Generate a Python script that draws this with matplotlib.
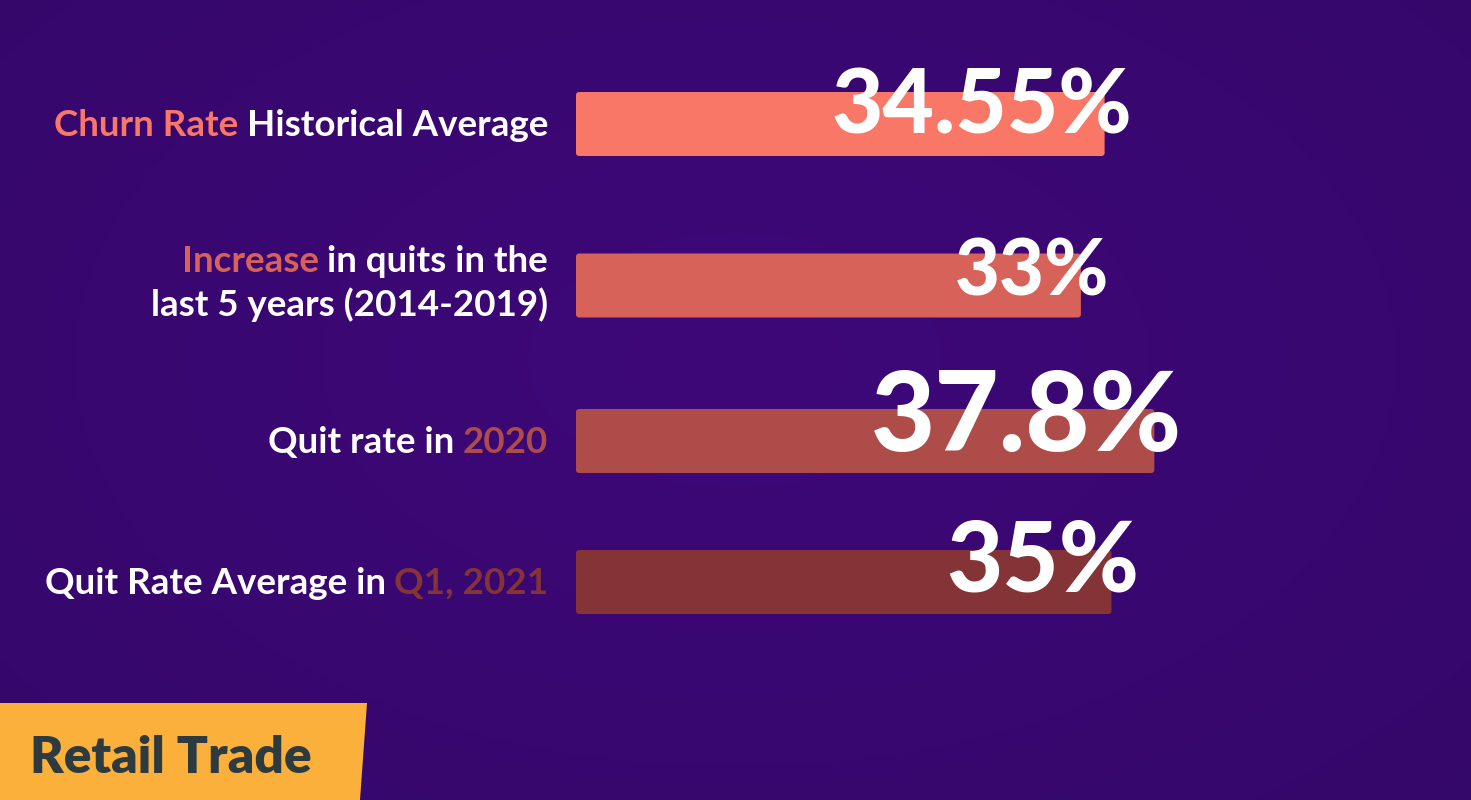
import matplotlib
matplotlib.use("Agg")
import matplotlib.pyplot as plt
import matplotlib.transforms as mtransforms
from matplotlib.patches import Polygon, FancyBboxPatch
import numpy as np

# ---- data ----
values = [34.55, 33, 37.8, 35]
value_labels = ["34.55%", "33%", "37.8%", "35%"]
label_accent = ["Churn Rate", "Increase", "2020", "Q1, 2021"]
label_plain = ["Historical Average", "in quits in the", "Quit rate in", "Quit Rate Average in"]
label_second_line = [None, "last 5 years (2014-2019)", None, None]
accent_first = [True, True, False, False]
title = "Retail Trade"

# ---- layout / style ----
W, H = 1471, 800
bar_pos = [124, 285.5, 441, 582]          # vertical centers (px from top)
bar_h = 64
bar_colors = ["#F87766", "#D6625A", "#AE4C4A", "#843436"]
value_sizes = [64, 56, 80, 70]
bar_x0 = 576
px_per_unit = 15.3
FONT = "Lato"

plt.rcParams['font.family'] = [FONT, 'DejaVu Sans']
fig = plt.figure(figsize=(W / 100, H / 100), dpi=100)

# background gradient
bg = fig.add_axes([0, 0, 1, 1])
yy, xx = np.mgrid[0:1:200j, 0:1:368j]
r = np.sqrt(((xx - 0.5) / 0.75) ** 2 + ((yy - 0.45) / 0.85) ** 2)
r = np.clip(r, 0, 1)
c_in = np.array([0x3E, 0x07, 0x79]) / 255
c_out = np.array([0x34, 0x08, 0x69]) / 255
img = c_in[None, None, :] * (1 - r[..., None]) + c_out[None, None, :] * r[..., None]
bg.imshow(img, extent=[0, W, H, 0], aspect='auto', interpolation='bicubic')
bg.set_xlim(0, W)
bg.set_ylim(H, 0)
bg.axis('off')

# bars axes
ax = fig.add_axes([bar_x0 / W, 0, (W - bar_x0) / W, 1])
ax.set_xlim(0, (W - bar_x0) / px_per_unit)
ax.set_ylim(H, 0)
ax.axis('off')
ax.patch.set_alpha(0)

bars = ax.barh(bar_pos, values, height=bar_h, color=bar_colors, left=0)
# replace with slightly rounded rectangles
for rect, col in zip(bars.patches, bar_colors):
    x, y = rect.get_x(), rect.get_y()
    w, h = rect.get_width(), rect.get_height()
    rect.set_visible(False)
    ax.add_patch(FancyBboxPatch((x, y), w, h,
                                boxstyle="round,pad=0,rounding_size=0.2",
                                mutation_aspect=px_per_unit,
                                facecolor=col, edgecolor='none'))

# value labels
val_tr = mtransforms.offset_copy(ax.transData, fig=fig, x=28, y=0, units='dots')
for v, lab, y, s in zip(values, value_labels, bar_pos, value_sizes):
    ax.text(v, y + 10, lab, transform=val_tr, ha='right', va='baseline',
            color='white', fontsize=s, fontweight='black', zorder=5)

# left labels
lab_tr = mtransforms.offset_copy(ax.transData, fig=fig, x=-28, y=0, units='dots')
fig.canvas.draw()
renderer = fig.canvas.get_renderer()
LS = 26.5
gap = 8
for i, y in enumerate(bar_pos):
    second = label_second_line[i]
    if second is not None:
        base1 = y - 13
        base2 = y + 30
        ax.text(0, base2, second, transform=lab_tr, ha='right', va='baseline',
                color='white', fontsize=LS, fontweight='bold')
    else:
        base1 = y + 12
    if accent_first[i]:
        t = ax.text(0, base1, label_plain[i], transform=lab_tr, ha='right', va='baseline',
                    color='white', fontsize=LS, fontweight='bold')
        bb = t.get_window_extent(renderer)
        _, ydisp = lab_tr.transform((0, base1))
        fig.text(bb.x0 - gap, ydisp, label_accent[i], transform=None, ha='right',
                 va='baseline', color=bar_colors[i], fontsize=LS, fontweight='bold')
    else:
        t = ax.text(0, base1, label_accent[i], transform=lab_tr, ha='right', va='baseline',
                    color=bar_colors[i], fontsize=LS, fontweight='bold')
        bb = t.get_window_extent(renderer)
        _, ydisp = lab_tr.transform((0, base1))
        fig.text(bb.x0 - gap, ydisp, label_plain[i], transform=None, ha='right',
                 va='baseline', color='white', fontsize=LS, fontweight='bold')

# yellow tag bottom-left
bg.add_patch(Polygon([(0, 703), (367, 703), (360, 800), (0, 800)], closed=True,
                     facecolor="#FBB03B", edgecolor='none', zorder=5))
bg.text(30, 773, title, ha='left', va='baseline', color="#2D3A40",
        fontsize=37, fontweight='heavy', zorder=6)

fig.savefig("out.png", dpi=100)
